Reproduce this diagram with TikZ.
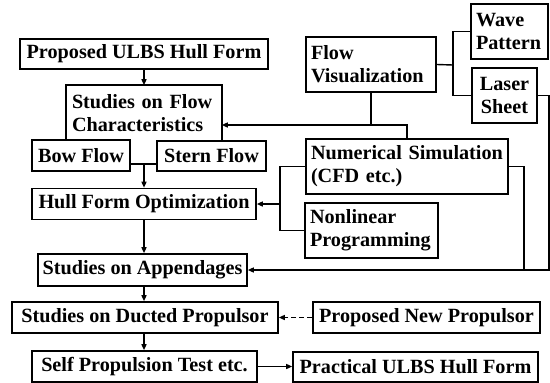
\documentclass[tikz,border=0pt]{standalone}
\usepackage{fontspec}
\setmainfont{Liberation Serif}
\usetikzlibrary{arrows.meta,calc}
\begin{document}
\begin{tikzpicture}[x=1pt,y=-1pt,
  box/.style={draw,line width=1.6pt,inner sep=0pt,fill=white,
    font=\fontsize{20.2}{23}\selectfont\bfseries},
  openbox/.style={box,draw=none,fill=none},
  boxline/.style={line width=1.6pt},
  conn/.style={line width=1.4pt},
  arr/.style={conn,-{Triangle[length=6pt,width=5pt]}},
  dasharr/.style={arr,dash pattern=on 5pt off 3pt}]
\useasboundingbox (0,0) rectangle (550,383);
\fill[white] (0,0) rectangle (550,383);

% left column
\node[box,minimum width=248pt,minimum height=30pt] (pu) at (144,54) {Proposed ULBS Hull Form};
\node[openbox,minimum width=154pt,minimum height=54pt,text width=144pt,align=left] (sf) at (144,113) {Studies on Flow\\Characteristics};
\draw[boxline] (sf.south west) -- (sf.north west) -- (sf.north east) -- (sf.south east);
\node[box,minimum width=98pt,minimum height=31pt] (bf) at (81,155.5) {Bow Flow};
\node[box,minimum width=109pt,minimum height=30pt] (stf) at (211.5,156) {Stern Flow};
\node[box,minimum width=224pt,minimum height=31pt] (hfo) at (144,204) {Hull Form Optimization};
\node[box,minimum width=209pt,minimum height=32pt] (sa) at (142.5,270) {Studies on Appendages};
\node[box,minimum width=266pt,minimum height=31pt] (dp) at (145,317.5) {Studies on Ducted Propulsor};
\node[box,minimum width=225pt,minimum height=31pt] (sp) at (144.5,366.5) {Self Propulsion Test etc.};

% right column
\node[box,minimum width=130pt,minimum height=55pt,text width=120pt,align=left] (fv) at (371,64.5) {Flow\\Visualization};
\node[box,minimum width=77pt,minimum height=55pt,text width=67pt,align=left] (wp) at (509.5,31.5) {Wave\\Pattern};
\node[box,minimum width=65pt,minimum height=55pt,align=center] (ls) at (504.5,95.5) {Laser\\Sheet};
\node[box,minimum width=202pt,minimum height=55pt,text width=192pt,align=left] (ns) at (407,166.5) {Numerical Simulation\\(CFD etc.)};
\node[box,minimum width=133pt,minimum height=55pt,text width=123pt,align=left] (np) at (371.5,230.5) {Nonlinear\\Programming};
\node[box,minimum width=227pt,minimum height=31pt] (pnp) at (426.5,317.5) {Proposed New Propulsor};
\node[box,minimum width=245pt,minimum height=30pt] (pr) at (415.5,367) {Practical ULBS Hull Form};

% junction coordinates
\coordinate (j1) at (144,164);
\coordinate (j2) at (371,125);
\coordinate (j3) at (453,65);
\coordinate (l1) at (280,204);
\coordinate (r1) at (549,0);
\coordinate (r2) at (524,0);

% connectors
\draw[arr] (pu.south) -- (sf.north);
\draw[conn] (bf.east |- j1) -- (stf.west |- j1);
\draw[arr] (j1) -- (hfo.north);
\draw[conn] (fv.south) -- (j2);
\draw[arr] (ns.north) -- (ns.north |- j2) -- (sf.east |- j2);
\draw[conn] (fv.east) -- (j3);
\draw[conn] (wp.west) -- (wp.west -| j3) -- (ls.west -| j3) -- (ls.west);
\draw[arr] (ls.east) -- (ls.east -| r1) -- (r1 |- sa.east) -- (sa.east);
\draw[conn] (ns.east) -- (ns.east -| r2) -- (r2 |- sa.east);
\draw[conn] (ns.west) -- (ns.west -| l1) -- (np.west -| l1) -- (np.west);
\draw[arr] (l1) -- (hfo.east);
\draw[arr] (hfo.south) -- (hfo.south |- sa.north);
\draw[arr] (sa.south -| hfo.south) -- (dp.north -| hfo.south);
\draw[arr] (dp.south -| hfo.south) -- (sp.north -| hfo.south);
\draw[dasharr] (pnp.west) -- (dp.east);
\draw[arr] (sp.east) -- (sp.east -| pr.west);
\end{tikzpicture}
\end{document}
